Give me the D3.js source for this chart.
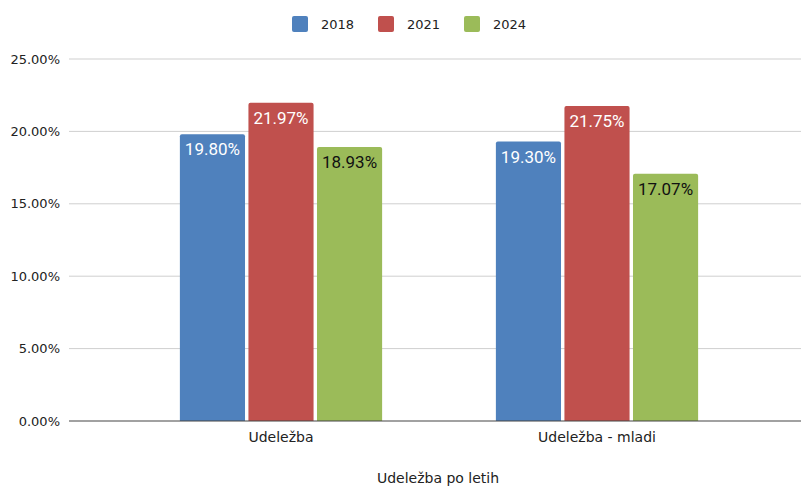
<!DOCTYPE html>
<html lang="sl">
<head>
    <meta charset="UTF-8">
    <title>Udeležba po letih</title>
    <script src="https://d3js.org/d3.v7.min.js"></script>
    <style>
        body { margin: 0; background: #fff; }
        svg text { font-family: "DejaVu Sans", sans-serif; fill: #222; }
        .val { font-family: Roboto, sans-serif; font-size: 17px; }
    </style>
</head>
<body>
<div id="chart"></div>
<script>
    // Data
    const categories = ["Udeležba", "Udeležba - mladi"];
    const years = ["2018", "2021", "2024"];
    const values2018 = [19.80, 19.30];
    const values2021 = [21.97, 21.75];
    const values2024 = [18.93, 17.07];
    const yTicks = [0, 5, 10, 15, 20, 25];
    const colors = ["#4F81BD", "#C0504D", "#9BBB59"];
    const labelColors = ["#fff", "#fff", "#111"];

    const series = [values2018, values2021, values2024];
    const rows = [];
    categories.forEach((c, ci) => {
        years.forEach((y, yi) => rows.push({cat: c, year: y, yi: yi, value: series[yi][ci]}));
    });

    const W = 801, H = 487;
    const plotLeft = 69, plotRight = 801, plotTop = 59, plotBottom = 421;

    const svg = d3.select("#chart").append("svg")
        .attr("width", W).attr("height", H);

    const x0 = d3.scaleBand().domain(categories).range([123, 755]).paddingInner(0).paddingOuter(0);
    const x1 = d3.scaleBand().domain(years).range([x0.bandwidth() * 0.18, x0.bandwidth() * 0.82]).paddingInner(0.05);
    const y = d3.scaleLinear().domain([0, 25]).range([plotBottom, plotTop]);

    // gridlines
    svg.append("g").selectAll("line")
        .data(yTicks.filter(t => t > 0))
        .join("line")
        .attr("x1", plotLeft).attr("x2", plotRight)
        .attr("y1", d => y(d)).attr("y2", d => y(d))
        .attr("stroke", "#cfcfcf").attr("stroke-width", 1);

    // y tick labels
    svg.append("g").selectAll("text")
        .data(yTicks)
        .join("text")
        .attr("x", 60).attr("y", d => y(d))
        .attr("dy", "0.36em")
        .attr("text-anchor", "end")
        .style("font-size", "13px")
        .text(d => d3.format(".2f")(d) + "%");

    // bars: rounded top corners
    const r = 2;
    function barPath(x, yt, w, yb) {
        return `M${x},${yb}V${yt + r}Q${x},${yt} ${x + r},${yt}H${x + w - r}Q${x + w},${yt} ${x + w},${yt + r}V${yb}Z`;
    }
    const bars = svg.append("g").selectAll("g")
        .data(rows)
        .join("g")
        .attr("transform", d => `translate(${x0(d.cat)},0)`);

    bars.append("path")
        .attr("d", d => barPath(x1(d.year), y(d.value), x1.bandwidth(), y(0)))
        .attr("fill", d => colors[d.yi]);

    bars.append("text")
        .attr("class", "val")
        .attr("x", d => x1(d.year) + x1.bandwidth() / 2)
        .attr("y", d => y(d.value) + 21)
        .attr("text-anchor", "middle")
        .style("fill", d => labelColors[d.yi])
        .text(d => d3.format(".2f")(d.value) + "%");

    // baseline
    svg.append("line")
        .attr("x1", plotLeft).attr("x2", plotRight)
        .attr("y1", y(0)).attr("y2", y(0))
        .attr("stroke", "#444").attr("stroke-width", 1.2);

    // category labels
    svg.append("g").selectAll("text")
        .data(categories)
        .join("text")
        .attr("x", d => x0(d) + x0.bandwidth() / 2)
        .attr("y", 442)
        .attr("text-anchor", "middle")
        .style("font-size", "14px")
        .text(d => d);

    // x axis title
    svg.append("text")
        .attr("x", 438).attr("y", 483)
        .attr("text-anchor", "middle")
        .style("font-size", "14px")
        .text("Udeležba po letih");

    // legend
    const legendX = [292, 378, 464];
    const legend = svg.append("g").selectAll("g")
        .data(years)
        .join("g")
        .attr("transform", (d, i) => `translate(${legendX[i]},16)`);
    legend.append("rect")
        .attr("width", 16).attr("height", 16).attr("rx", 2)
        .attr("fill", (d, i) => colors[i]);
    legend.append("text")
        .attr("x", 29).attr("y", 8).attr("dy", "0.36em")
        .style("font-size", "13px")
        .text(d => d);
</script>
</body>
</html>
